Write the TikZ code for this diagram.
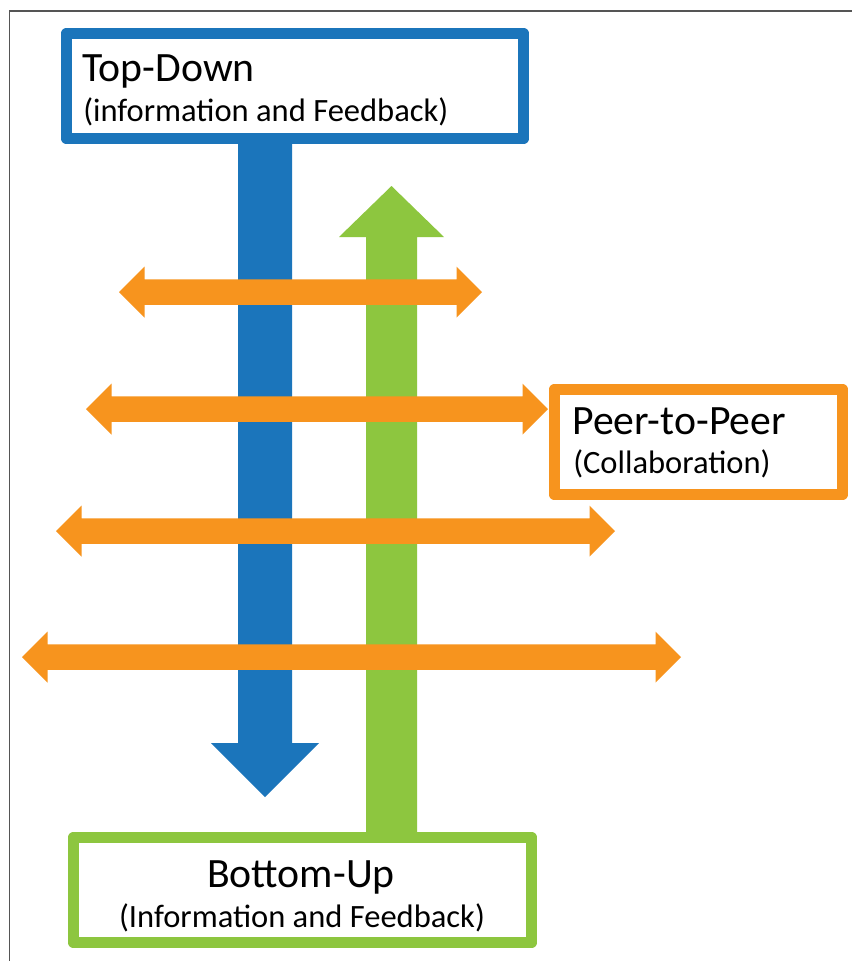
\documentclass[tikz,border=0pt]{standalone}
\usepackage{fontspec}
\setmainfont{Carlito}
\definecolor{tdblue}{RGB}{27,117,187}
\definecolor{bugreen}{RGB}{141,198,63}
\definecolor{peerorange}{RGB}{247,148,30}
\definecolor{framegray}{RGB}{85,85,85}
\newcommand\peerarrow[3]{% y, left tip, right tip
  \fill[peerarrowstyle] (#2,#1) -- (#2+25.5,#1-25.5) -- (#2+25.5,#1-12.75) -- (#3-25.5,#1-12.75) -- (#3-25.5,#1-25.5) -- (#3,#1) -- (#3-25.5,#1+25.5) -- (#3-25.5,#1+12.75) -- (#2+25.5,#1+12.75) -- (#2+25.5,#1+25.5) -- cycle;}
\begin{document}
\begin{tikzpicture}[x=0.75pt,y=-0.75pt,
  box/.style={draw, fill=white, line width=7.9pt, line join=round, inner sep=0pt, outer sep=0pt},
  titletext/.style={inner sep=0pt, font=\fontsize{31.3}{37}\selectfont},
  subtext/.style={inner sep=0pt, font=\fontsize{24.4}{29}\selectfont},
  peerarrowstyle/.style={fill=peerorange},
  frameline/.style={draw=framegray, line width=1.2pt}]
\useasboundingbox (0,0) rectangle (852,961);
\fill[white] (0,0) rectangle (852,961);
\draw[frameline] (9.5,961) -- (9.5,11) -- (852,11);

% blue top-down arrow
\fill[tdblue] (238,140) -- (238,743) -- (211,743) -- (265,797) -- (319,743) -- (292,743) -- (292,140) -- cycle;
% green bottom-up arrow
\fill[bugreen] (366,838) -- (366,237) -- (339,237) -- (391.5,186) -- (444,237) -- (417,237) -- (417,838) -- cycle;

% orange peer arrows
\peerarrow{292}{119}{482}
\peerarrow{409}{86}{548}
\peerarrow{531}{56}{615}
\peerarrow{657}{22}{681}

% boxes
\node[box, draw=tdblue, minimum width={457.5*0.75pt}, minimum height={105.5*0.75pt}] (td) at (295,86) {};
\node[box, draw=peerorange, minimum width={288.5*0.75pt}, minimum height={105.5*0.75pt}] (pp) at (698.5,442) {};
\node[box, draw=bugreen, minimum width={458.5*0.75pt}, minimum height={105.5*0.75pt}] (bu) at (302.5,890) {};

% texts
\node[titletext, anchor=base west] (tdt) at (82,81) {Top-Down};
\node[subtext, anchor=base west] (tds) at (83,121) {(information and Feedback)};
\node[titletext, anchor=base west] (ppt) at (572,434) {Peer-to-Peer};
\node[subtext, anchor=base west] (pps) at (573,473) {(Collaboration)};
\node[titletext, anchor=base] (but) at (301,887) {Bottom-Up};
\node[subtext, anchor=base] (bus) at (302,927) {(Information and Feedback)};
\end{tikzpicture}
\end{document}
